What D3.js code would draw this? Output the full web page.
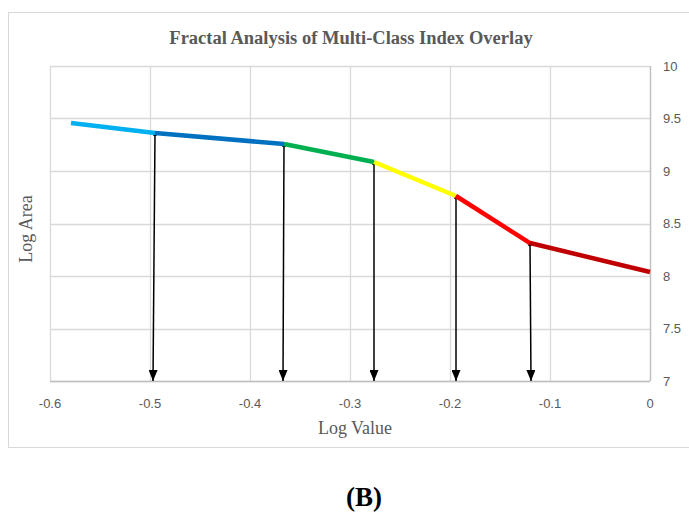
<!DOCTYPE html>
<html>
<head>
<meta charset="utf-8">
<script src="https://cdn.jsdelivr.net/npm/d3@7"></script>
<style>
  body { margin: 0; background: #fff; }
  svg { display: block; }
</style>
</head>
<body>
<svg id="chart" width="689" height="514"></svg>
<script>
// values
var xTicks = [-0.6, -0.5, -0.4, -0.3, -0.2, -0.1, 0];
var xTickLabels = ["-0.6", "-0.5", "-0.4", "-0.3", "-0.2", "-0.1", "0"];
var yTicks = [7, 7.5, 8, 8.5, 9, 9.5, 10];
var yTickLabels = ["7", "7.5", "8", "8.5", "9", "9.5", "10"];

// break points of the fitted line (log value, log area)
var lineX = [-0.579, -0.495, -0.366, -0.276, -0.194, -0.120, 0];
var lineY = [9.457, 9.362, 9.257, 9.086, 8.762, 8.314, 8.038];
var segColors = ["#00b0f0", "#0070c0", "#00b050", "#ffff00", "#ff0000", "#c00000"];

// arrows drop from the inner break points to the x axis
var arrowEndX = [-0.497, -0.367, -0.276, -0.194, -0.119];

var titleText = "Fractal Analysis of Multi-Class Index Overlay";
var xTitle = "Log Value";
var yTitle = "Log Area";
var panelLabel = "(B)";

var svg = d3.select("#chart");
var plot = {left: 50, right: 650, top: 66, bottom: 381};

var x = d3.scaleLinear().domain([-0.6, 0]).range([plot.left, plot.right]);
var y = d3.scaleLinear().domain([7, 10]).range([plot.bottom, plot.top]);

var grey = "#595959";

// outer chart frame
svg.append("rect")
    .attr("x", 8.5).attr("y", 12.5)
    .attr("width", 690).attr("height", 435)
    .attr("fill", "#fff")
    .attr("stroke", "#d9d9d9");

// gridlines
svg.append("g").selectAll("line.v")
    .data(xTicks)
    .join("line")
    .attr("x1", d => Math.round(x(d)) + 0.5).attr("x2", d => Math.round(x(d)) + 0.5)
    .attr("y1", plot.top).attr("y2", plot.bottom)
    .attr("stroke", "#d9d9d9").attr("stroke-width", 1.3);

svg.append("g").selectAll("line.h")
    .data(yTicks)
    .join("line")
    .attr("x1", plot.left).attr("x2", plot.right)
    .attr("y1", d => Math.round(y(d)) + 0.5).attr("y2", d => Math.round(y(d)) + 0.5)
    .attr("stroke", "#d9d9d9").attr("stroke-width", 1.3);

// axis lines (bottom and right)
svg.append("line")
    .attr("x1", plot.left).attr("x2", plot.right)
    .attr("y1", plot.bottom + 0.5).attr("y2", plot.bottom + 0.5)
    .attr("stroke", "#bfbfbf").attr("stroke-width", 1.3);
svg.append("line")
    .attr("x1", plot.right + 0.5).attr("x2", plot.right + 0.5)
    .attr("y1", plot.top).attr("y2", plot.bottom)
    .attr("stroke", "#bfbfbf").attr("stroke-width", 1.3);

// tick labels
svg.append("g").selectAll("text")
    .data(xTicks)
    .join("text")
    .attr("x", d => x(d)).attr("y", 408)
    .attr("text-anchor", "middle")
    .attr("font-family", "Liberation Sans, Arial, sans-serif")
    .attr("font-size", 13)
    .attr("fill", grey)
    .text((d, i) => xTickLabels[i]);

svg.append("g").selectAll("text")
    .data(yTicks)
    .join("text")
    .attr("x", 663).attr("y", d => y(d) + 4.5)
    .attr("font-family", "Liberation Sans, Arial, sans-serif")
    .attr("font-size", 13)
    .attr("fill", grey)
    .text((d, i) => yTickLabels[i]);

// arrows
var defs = svg.append("defs");
defs.append("marker")
    .attr("id", "head")
    .attr("viewBox", "0 0 10 10")
    .attr("refX", 10).attr("refY", 5)
    .attr("markerWidth", 11).attr("markerHeight", 9)
    .attr("markerUnits", "userSpaceOnUse")
    .attr("orient", "auto")
    .attr("preserveAspectRatio", "none")
    .append("path")
    .attr("d", "M0,0 L10,5 L0,10 Z")
    .attr("fill", "#000");

var arrows = arrowEndX.map((ex, i) => ({x0: lineX[i + 1], y0: lineY[i + 1], x1: ex}));

svg.append("g").selectAll("line")
    .data(arrows)
    .join("line")
    .attr("x1", d => x(d.x0)).attr("y1", d => y(d.y0))
    .attr("x2", d => x(d.x1)).attr("y2", y(7))
    .attr("stroke", "#000").attr("stroke-width", 1.5)
    .attr("marker-end", "url(#head)");

svg.append("g").selectAll("circle")
    .data(arrows)
    .join("circle")
    .attr("cx", d => x(d.x0)).attr("cy", d => y(d.y0) + 1)
    .attr("r", 2.3)
    .attr("fill", "#000");

// coloured line segments
var segs = segColors.map((c, i) => ({
    pts: [[lineX[i], lineY[i]], [lineX[i + 1], lineY[i + 1]]],
    color: c
}));
var line = d3.line().x(d => x(d[0])).y(d => y(d[1]));

svg.append("g").selectAll("path")
    .data(segs)
    .join("path")
    .attr("d", d => line(d.pts))
    .attr("fill", "none")
    .attr("stroke", d => d.color)
    .attr("stroke-width", 4.5);

// titles
svg.append("text")
    .attr("x", 351).attr("y", 44)
    .attr("text-anchor", "middle")
    .attr("font-family", "Liberation Serif, Times New Roman, serif")
    .attr("font-weight", "bold")
    .attr("font-size", 18.5)
    .attr("fill", grey)
    .text(titleText);

svg.append("text")
    .attr("x", 355).attr("y", 434)
    .attr("text-anchor", "middle")
    .attr("font-family", "Liberation Serif, Times New Roman, serif")
    .attr("font-size", 18)
    .attr("fill", grey)
    .text(xTitle);

svg.append("text")
    .attr("transform", "translate(32,229) rotate(-90)")
    .attr("text-anchor", "middle")
    .attr("font-family", "Liberation Serif, Times New Roman, serif")
    .attr("font-size", 18)
    .attr("fill", grey)
    .text(yTitle);

svg.append("text")
    .attr("x", 364).attr("y", 506)
    .attr("text-anchor", "middle")
    .attr("font-family", "Liberation Serif, Times New Roman, serif")
    .attr("font-weight", "bold")
    .attr("font-size", 27)
    .attr("fill", "#000")
    .text(panelLabel);
</script>
</body>
</html>
